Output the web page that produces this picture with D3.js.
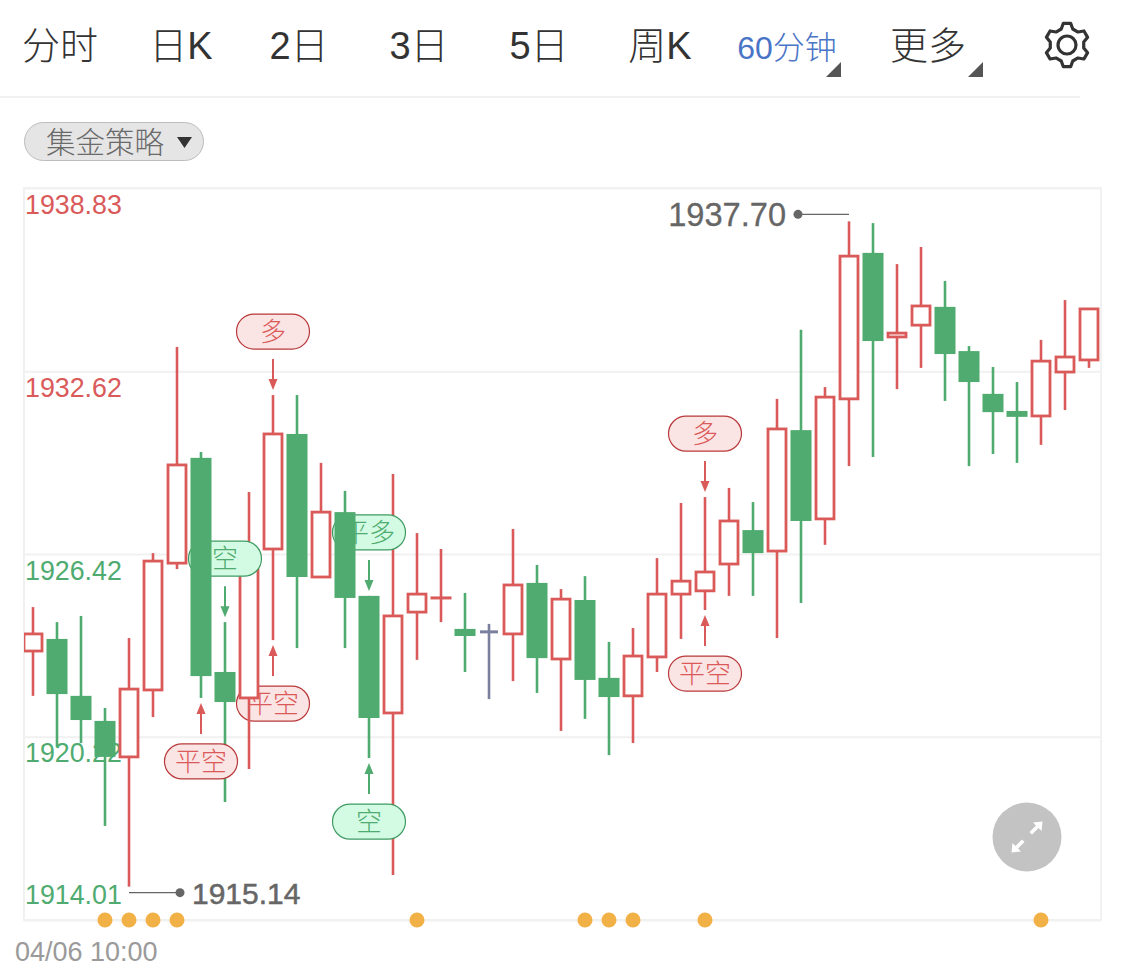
<!DOCTYPE html>
<html><head><meta charset="utf-8">
<script src="https://cdn.jsdelivr.net/npm/d3@7"></script>
<style>html,body{margin:0;padding:0;background:#fff}svg{display:block}
text{font-family:"Liberation Sans","Noto Sans CJK SC",sans-serif}</style></head><body>
<div id="chart"></div>
<script>
const tabLabels=["分时","日K","2日","3日","5日","周K","60分钟","更多"];
const priceTicks=[1938.83,1932.62,1926.42,1920.22,1914.01];
const startLabel="04/06 10:00";
const highs=[1924.62,1924.11,1924.32,1921.20,1923.57,1926.45,1933.44,1929.88,1924.11,1928.52,1931.81,1931.81,1929.51,1928.56,1925.00,1929.13,1927.13,1926.59,1925.10,1924.05,1927.27,1926.05,1925.23,1925.67,1923.44,1923.91,1926.28,1928.15,1928.35,1928.66,1928.18,1931.68,1934.02,1932.08,1937.70,1937.64,1936.25,1936.83,1935.68,1933.47,1932.76,1932.25,1933.68,1935.03,1934.76];
const lows=[1921.61,1919.88,1920.01,1917.20,1915.14,1920.89,1925.91,1921.54,1918.01,1919.13,1923.50,1923.23,1925.64,1923.23,1919.50,1915.54,1922.83,1924.11,1922.42,1921.50,1922.11,1921.71,1920.42,1920.83,1919.60,1920.01,1922.42,1923.54,1924.52,1925.00,1925.00,1923.57,1924.76,1926.73,1929.40,1929.71,1932.01,1932.73,1931.61,1929.40,1929.81,1929.51,1930.12,1931.30,1932.73];
const opens=[1923.13,1923.54,1921.61,1920.76,1919.54,1921.81,1926.11,1929.68,1922.42,1921.54,1926.59,1930.49,1925.64,1927.84,1925.00,1921.03,1924.45,1924.93,1923.88,1923.78,1923.71,1925.44,1922.86,1924.86,1922.22,1921.61,1922.93,1925.06,1925.17,1926.08,1927.23,1926.52,1930.62,1927.61,1931.68,1936.63,1933.78,1934.18,1934.80,1933.30,1931.85,1931.27,1931.10,1932.59,1933.00];
const closes=[1923.71,1921.67,1920.79,1919.54,1921.84,1926.18,1929.44,1922.28,1921.40,1925.88,1930.49,1925.64,1927.84,1924.93,1920.86,1924.32,1925.06,1924.93,1923.64,1923.78,1925.37,1922.89,1924.89,1922.15,1921.57,1922.96,1925.06,1925.50,1925.81,1927.54,1926.45,1930.66,1927.54,1931.74,1936.52,1933.64,1933.91,1934.83,1933.20,1932.25,1931.23,1931.07,1932.96,1933.10,1934.73];
const neutralIdx=[19];
const dotIdx=[3,4,5,6,16,23,24,25,28,42];
const sigIdx=[7,8,10,10,14,14,28,28];
const sigText=["平空","空","多","平空","平多","空","多","平空"];
const sigSide=["below","above","above","below","above","below","above","below"];
const sigTone=["red","green","red","red","green","green","red","red"];

const W=1125,H=980,cRed="#da5a5a",cGreen="#4fab6f",cGray="#7b809f";
const tone={red:{c:cRed,bg:"#fbe4e4",bd:"#b8383a"},green:{c:"#4fab6f",bg:"#d3fbe4",bd:"#3f9a62"}};
const svg=d3.select("#chart").append("svg").attr("width",W).attr("height",H);
const x=d3.scaleBand().domain(d3.range(highs.length)).range([21,1101]);
const y=d3.scaleLinear().domain([1914.01,1938.83]).range([920,188]);
const cx=i=>x(i)+x.bandwidth()/2;

/* header */
const tabX=d3.scaleOrdinal().domain(tabLabels).range([60,181,299,419,539,660,787,928]);
svg.selectAll("text.tab").data(tabLabels).join("text").attr("class","tab")
 .attr("x",d=>tabX(d)).attr("y",59).attr("text-anchor","middle")
 .attr("font-size",d=>d==="60分钟"?32:38).attr("fill",d=>d==="60分钟"?"#4a74c6":"#333").attr("font-weight",300).text(d=>d);
[[841,62],[983,62]].forEach(([a,b])=>svg.append("path").attr("d",`M${a} ${b}V${b+15}H${a-15}Z`).attr("fill","#555"));
svg.append("line").attr("x1",0).attr("x2",1080).attr("y1",97).attr("y2",97).attr("stroke","#f1f1f1").attr("stroke-width",2);
/* gear */
(function(){const g=svg.append("g").attr("transform","translate(1067,45)");
 const pts=[];const n=6;
 for(let k=0;k<n;k++){const a=(k/n)*2*Math.PI,s=Math.PI/n;
  [[-0.32,22],[0.32,22],[0.66,17],[1.34,17]].forEach(([o,r])=>{const t=a+o*s;pts.push([r*Math.sin(t),-r*Math.cos(t)]);});}
 g.append("path").attr("d",d3.line().curve(d3.curveLinearClosed)(pts)).attr("fill","none").attr("stroke","#333").attr("stroke-width",3.2).attr("stroke-linejoin","round");
 g.append("circle").attr("r",9).attr("fill","none").attr("stroke","#333").attr("stroke-width",3.2);
})();
/* pill */
svg.append("rect").attr("x",24.5).attr("y",122.5).attr("width",179).attr("height",38).attr("rx",19).attr("fill","#e5e5e5").attr("stroke","#bdbdbd");
svg.append("text").attr("x",46).attr("y",153).attr("font-size",29.5).attr("font-weight",300).attr("fill","#6a6a6a").text("集金策略");
svg.append("path").attr("d","M177 137H192L184.5 148Z").attr("fill","#333");

/* frame */
svg.append("rect").attr("x",24).attr("y",188).attr("width",1077).attr("height",732).attr("fill","none").attr("stroke","#f1f1f1").attr("stroke-width",2);
const axis=d3.axisRight(y).tickValues(priceTicks).tickSize(1077).tickPadding(0).tickFormat(d3.format(".2f"));
const gA=svg.append("g").attr("transform","translate(24,0)").call(axis);
gA.select(".domain").remove();
gA.selectAll(".tick line").attr("stroke","#f1f1f1").attr("stroke-width",2);
gA.selectAll(".tick text").attr("x",1).attr("text-anchor","start").attr("font-size",26.8)
 .attr("font-family",'"Liberation Sans"')
 .attr("dy",(d,i)=>i===4?-17:25)
 .attr("fill",(d,i)=>i<2?cRed:cGreen);
svg.append("text").attr("x",15).attr("y",961).attr("font-size",27).attr("fill","#9a9a9a").text(startLabel);

/* plot, right to left so earlier candles sit on later ones */
svg.append("clipPath").attr("id","plot").append("rect").attr("x",24).attr("y",188).attr("width",1077).attr("height",732);
const plot=svg.append("g").attr("clip-path","url(#plot)");
for(let i=highs.length-1;i>=0;i--){
 const up=closes[i]>=opens[i],flat=Math.abs(closes[i]-opens[i])<0.005;
 const neutral=neutralIdx.includes(i);
 const col=neutral?cGray:(up?cRed:cGreen);
 const g=plot.append("g");
 sigIdx.forEach((si,k)=>{ if(si!==i)return;
  const t=tone[sigTone[k]],above=sigSide[k]==="above",s=above?-1:1,base=above?y(highs[i]):y(lows[i]);
  const tip=base+s*5,tail=base+s*36,near=base+s*46;
  const py=above?near-35:near;
  const a=g.append("g");
  a.append("line").attr("x1",cx(i)).attr("x2",cx(i)).attr("y1",tail).attr("y2",tip+s*6).attr("stroke",t.c).attr("stroke-width",2);
  a.append("path").attr("d",`M${cx(i)} ${tip}L${cx(i)-4.5} ${tip+s*11}H${cx(i)+4.5}Z`).attr("fill",t.c);
  a.append("rect").attr("x",cx(i)-36.5).attr("y",py).attr("width",73).attr("height",35).attr("rx",17.5).attr("fill",t.bg).attr("stroke",t.bd).attr("stroke-width",1.2);
  a.append("text").attr("x",cx(i)).attr("y",py+27).attr("text-anchor","middle").attr("font-size",26).attr("font-weight",300).attr("fill",t.c).text(sigText[k]);
 });
 g.append("line").attr("x1",cx(i)).attr("x2",cx(i)).attr("y1",y(highs[i])).attr("y2",y(lows[i])).attr("stroke",col).attr("stroke-width",2.6);
 const top=y(Math.max(opens[i],closes[i])),bot=y(Math.min(opens[i],closes[i]));
 if(neutral){
  g.append("rect").attr("x",cx(i)-9).attr("y",top-1.5).attr("width",18).attr("height",3).attr("fill",col);
 } else if(flat){
  g.append("rect").attr("x",cx(i)-10.5).attr("y",top-1.5).attr("width",21).attr("height",3).attr("fill",col);
 } else if(up){
  g.append("rect").attr("x",cx(i)-9).attr("y",top).attr("width",18).attr("height",bot-top).attr("fill","#fff").attr("stroke",col).attr("stroke-width",2.8);
 } else {
  g.append("rect").attr("x",cx(i)-10.5).attr("y",top).attr("width",21).attr("height",Math.max(bot-top,3)).attr("fill",col);
 }
}

/* extreme markers */
const hiI=d3.greatest(d3.range(highs.length),i=>highs[i]),loI=d3.least(d3.range(lows.length),i=>lows[i]);
const ext=svg.append("g");
(function(){
 const hy=y(highs[hiI])-7,hx=cx(hiI);
 ext.append("line").attr("x1",hx-51).attr("x2",hx).attr("y1",hy).attr("y2",hy).attr("stroke","#666").attr("stroke-width",1.4);
 ext.append("circle").attr("cx",hx-51).attr("cy",hy).attr("r",4.5).attr("fill","#666");
 ext.append("text").attr("x",hx-63).attr("y",hy+12).attr("text-anchor","end").attr("font-size",32.6).attr("fill","#666").attr("stroke","#666").attr("stroke-width",0.3).text(highs[hiI].toFixed(2));
 const ly=y(lows[loI])+6,lx=cx(loI);
 ext.append("line").attr("x1",lx).attr("x2",lx+51).attr("y1",ly).attr("y2",ly).attr("stroke","#666").attr("stroke-width",1.4);
 ext.append("circle").attr("cx",lx+51).attr("cy",ly).attr("r",4.5).attr("fill","#666");
 ext.append("text").attr("x",lx+63).attr("y",ly+11).attr("text-anchor","start").attr("font-size",30).attr("fill","#666").attr("stroke","#666").attr("stroke-width",0.5).text(lows[loI].toFixed(2));
})();

/* event dots */
svg.selectAll("circle.ev").data(dotIdx).join("circle").attr("class","ev").attr("cx",cx).attr("cy",920).attr("r",7.5).attr("fill","#f2b146");

/* expand button */
const b=svg.append("g").attr("transform","translate(1027,837)");
b.append("circle").attr("r",34.5).attr("fill","#c3c3c3");
b.append("g").attr("fill","#fff").selectAll("path").data([0,180]).join("path")
 .attr("transform",d=>`rotate(${d})`).attr("d","M15.5 -15.5L14.5 -6L11.5 -9L5 -2.5L2.5 -5L9 -11.5L6 -14.5Z");
</script></body></html>
